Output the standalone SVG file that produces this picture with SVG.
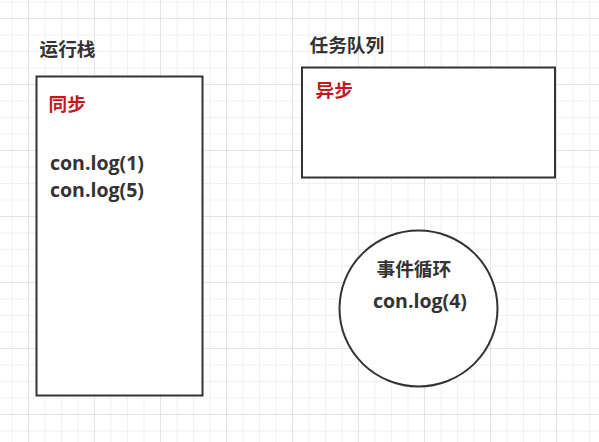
<svg xmlns="http://www.w3.org/2000/svg" width="599" height="442" viewBox="0 0 599 442">
  <style>
    .shape { fill: #ffffff; stroke: #333333; stroke-width: 2; }
    .title { font-family: "Open Sans", "Noto Sans CJK SC", sans-serif; font-weight: bold; font-size: 18.7px; fill: #333333; }
    .red { font-family: "Open Sans", "Noto Sans CJK SC", sans-serif; font-weight: bold; font-size: 18.7px; fill: #c01a1f; }
    .code { font-family: "Open Sans", "Noto Sans CJK SC", sans-serif; font-weight: bold; font-size: 19.8px; fill: #333333; }
  </style>
  <defs>
    <pattern id="grid" patternUnits="userSpaceOnUse" x="28" y="18" width="66" height="66">
      <rect x="16.5" y="0" width="1" height="66" fill="#f1f1f1"/>
      <rect x="33" y="0" width="1" height="66" fill="#f1f1f1"/>
      <rect x="49.5" y="0" width="1" height="66" fill="#f1f1f1"/>
      <rect x="0" y="16.5" width="66" height="1" fill="#f1f1f1"/>
      <rect x="0" y="33" width="66" height="1" fill="#f1f1f1"/>
      <rect x="0" y="49.5" width="66" height="1" fill="#f1f1f1"/>
      <rect x="0" y="0" width="1" height="66" fill="#e4e4e4"/>
      <rect x="0" y="0" width="66" height="1" fill="#e4e4e4"/>
    </pattern>
  </defs>
  <rect x="0" y="0" width="599" height="442" fill="#ffffff"/>
  <rect x="0" y="0" width="599" height="442" fill="url(#grid)"/>

  <g id="connectors"></g>

  <g id="stack-title">
    <text class="title" x="39.5" y="56">运行栈</text>
  </g>
  <g id="stack">
    <rect class="shape" x="36.5" y="76.5" width="166" height="319"/>
    <text class="red" x="48.5" y="111">同步</text>
    <text class="code" x="50" y="170" textLength="94" lengthAdjust="spacingAndGlyphs">con.log(1)</text>
    <text class="code" x="50" y="197" textLength="94" lengthAdjust="spacingAndGlyphs">con.log(5)</text>
  </g>

  <g id="queue-title">
    <text class="title" x="309.5" y="52">任务队列</text>
  </g>
  <g id="queue">
    <rect class="shape" x="302" y="67.5" width="253" height="110"/>
    <text class="red" x="315.5" y="96.5">异步</text>
  </g>

  <g id="event-loop">
    <ellipse class="shape" cx="418.5" cy="308.5" rx="79" ry="78"/>
    <text class="title" x="376.5" y="275.5">事件循环</text>
    <text class="code" x="373" y="307.5" textLength="94" lengthAdjust="spacingAndGlyphs">con.log(4)</text>
  </g>
</svg>
